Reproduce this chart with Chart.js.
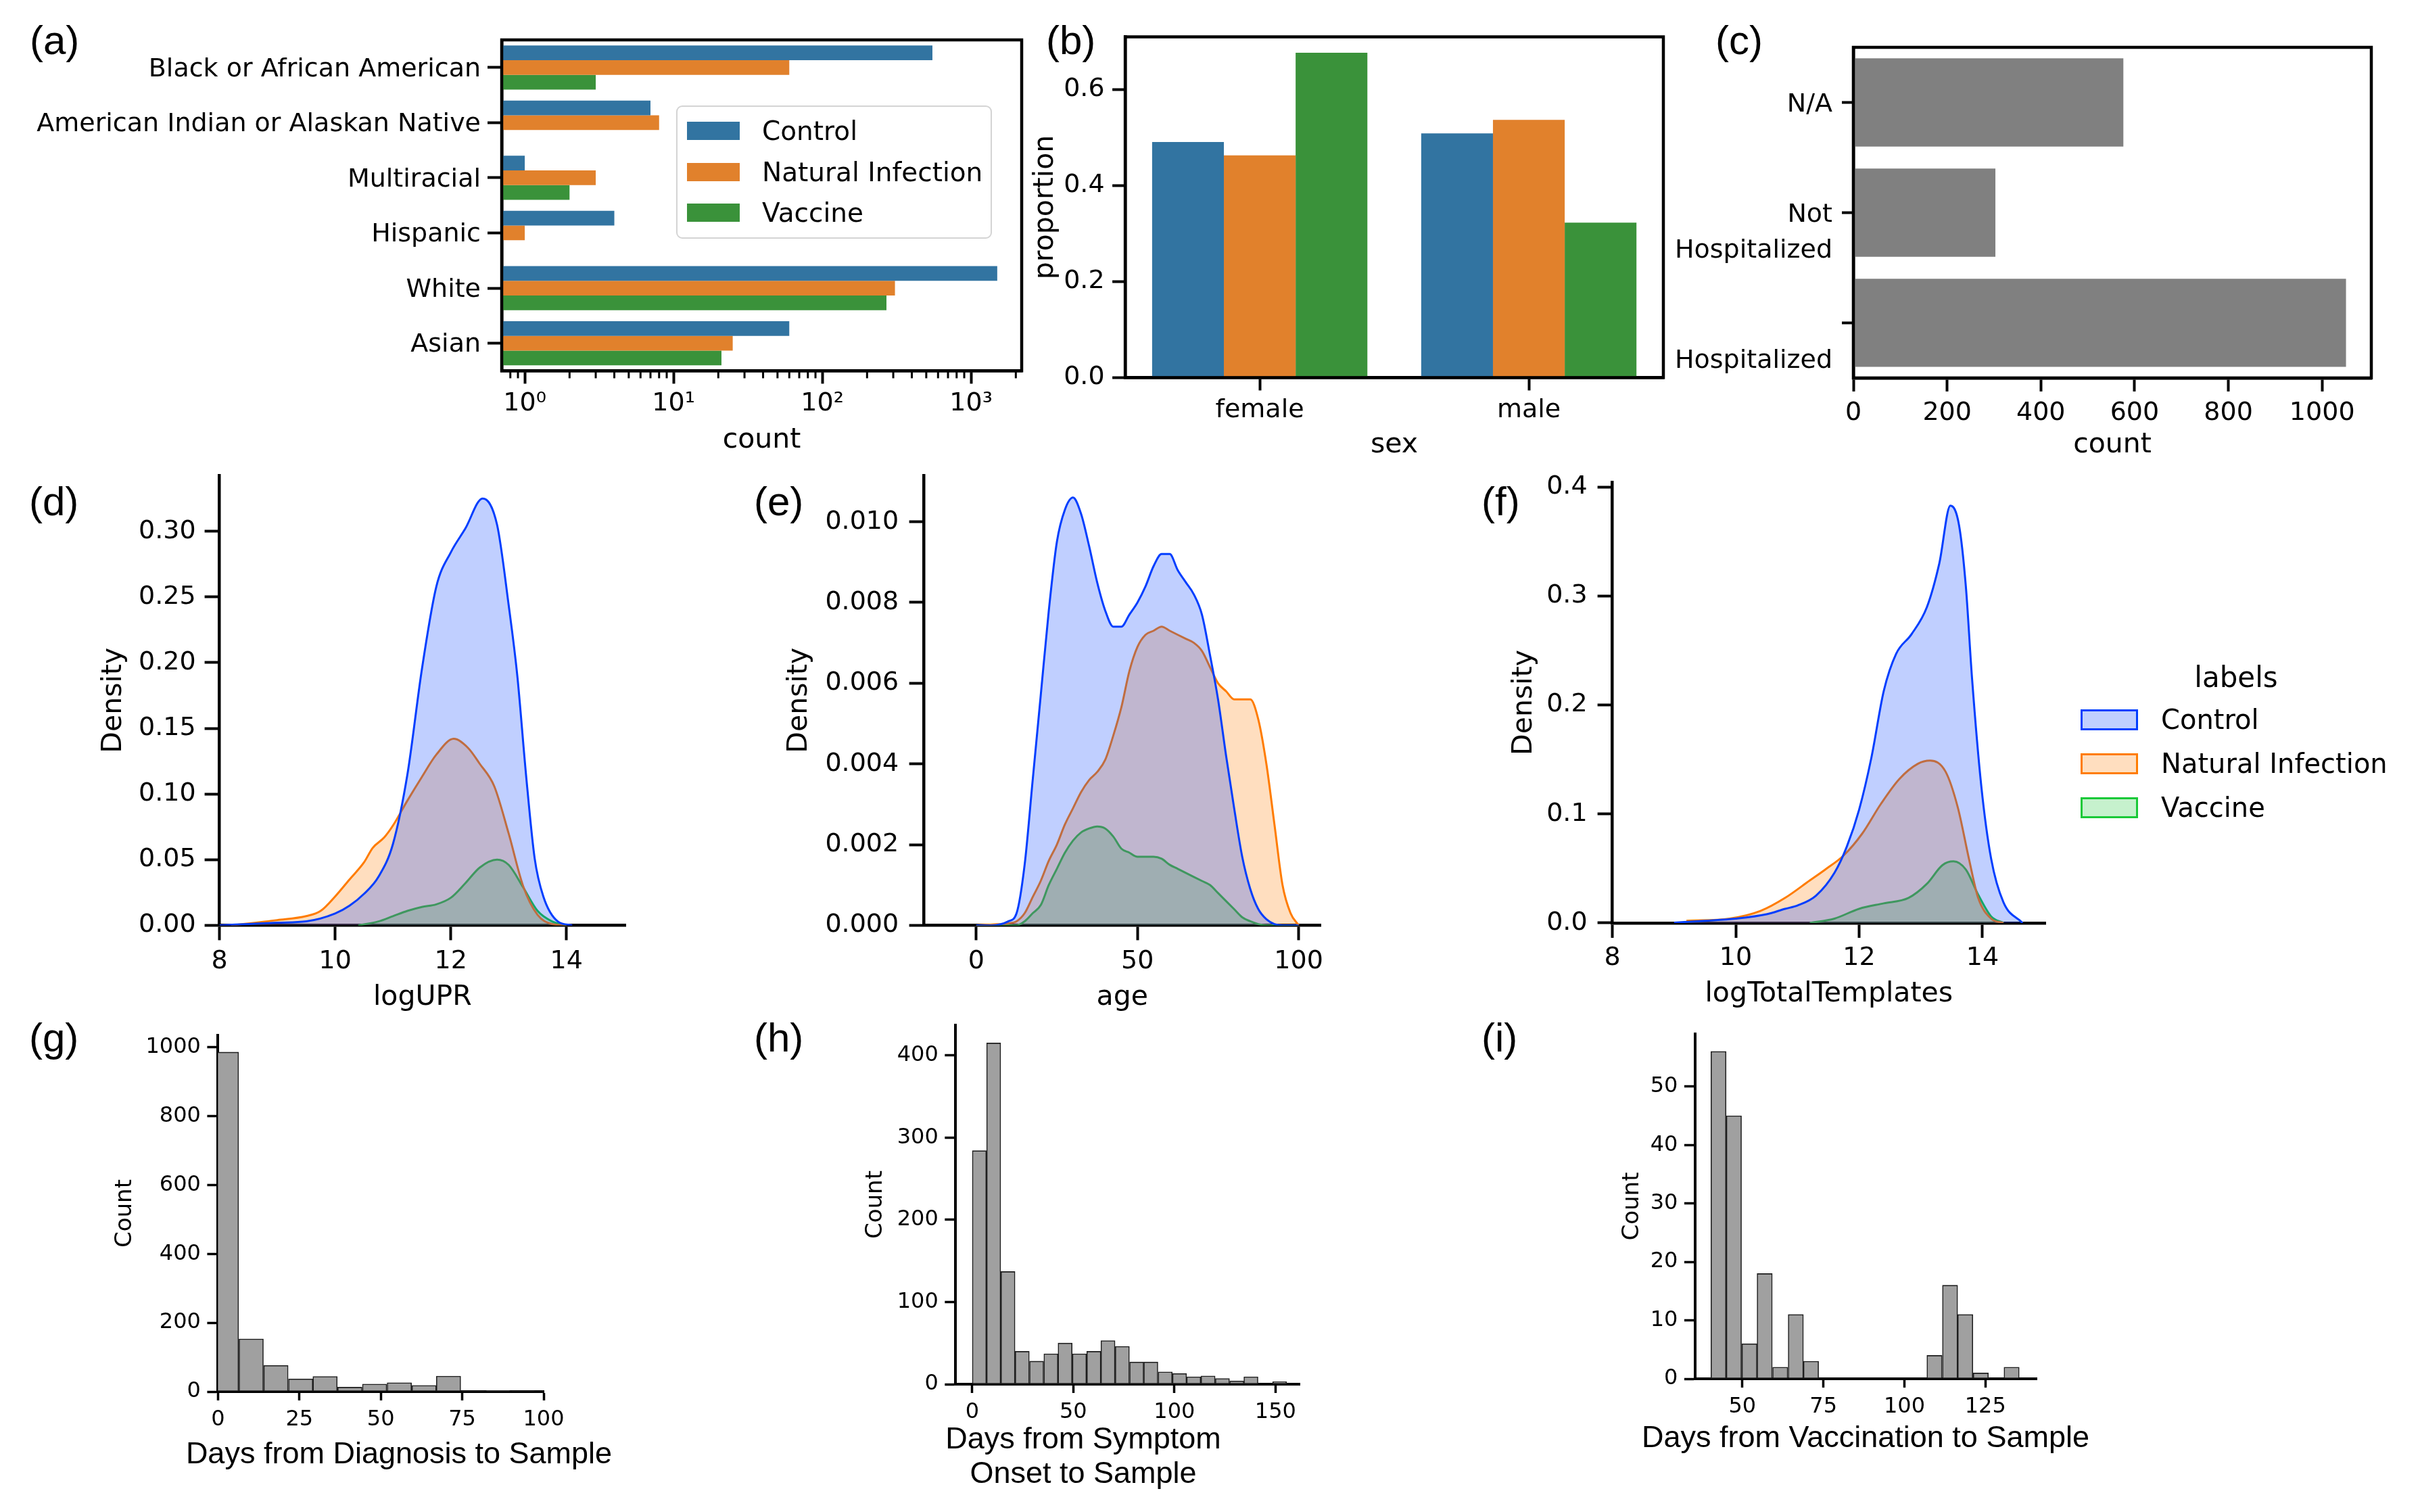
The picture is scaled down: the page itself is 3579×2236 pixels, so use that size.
<!DOCTYPE html>
<html>
<head>
<meta charset="utf-8">
<script src="https://cdn.jsdelivr.net/npm/chart.js@4.4.1/dist/chart.umd.min.js"></script>
<style>
  body { margin: 0; background: #fff; width: 3579px; height: 2236px; position: relative; overflow: hidden; }
  canvas { position: absolute; }
  .plabel { position: absolute; font-family: 'Liberation Sans', Arial, sans-serif; font-size: 60px; line-height: 60px; }
  .xt { position: absolute; font-family: 'Liberation Sans', Arial, sans-serif; font-size: 45px; line-height: 51px;
        text-align: center; transform: translate(-50%, -50%); white-space: nowrap; }
  .leg { position: absolute; font-family: 'DejaVu Sans', sans-serif; white-space: nowrap; }
  .legtxt { position: absolute; transform: translateY(-50%); }
  .legbox { position: absolute; box-sizing: border-box; }
</style>
</head>
<body>
<canvas id="cA"></canvas><canvas id="cB"></canvas><canvas id="cC"></canvas>
<canvas id="cD"></canvas><canvas id="cE"></canvas><canvas id="cF"></canvas>
<canvas id="cG"></canvas><canvas id="cH"></canvas><canvas id="cI"></canvas>

<div class="plabel" style="left:44px;top:30px">(a)</div>
<div class="plabel" style="left:1547px;top:30px">(b)</div>
<div class="plabel" style="left:2537px;top:30px">(c)</div>
<div class="plabel" style="left:43px;top:712px">(d)</div>
<div class="plabel" style="left:1115px;top:712px">(e)</div>
<div class="plabel" style="left:2191px;top:712px">(f)</div>
<div class="plabel" style="left:43px;top:1505px">(g)</div>
<div class="plabel" style="left:1115px;top:1505px">(h)</div>
<div class="plabel" style="left:2191px;top:1505px">(i)</div>

<div class="xt" style="left:590px;top:2148px">Days from Diagnosis to Sample</div>
<div class="xt" style="left:1602px;top:2152px">Days from Symptom<br>Onset to Sample</div>
<div class="xt" style="left:2759px;top:2124px">Days from Vaccination to Sample</div>

<div id="legA" class="leg" style="left:1000px;top:156px;width:467px;height:197px;border:2.5px solid #d4d4d4;border-radius:9px;box-sizing:border-box;background:rgba(255,255,255,0.8)"></div>
<div id="legF" class="leg" style="left:3060px;top:960px;width:519px;height:270px"></div>

<script>
// ---------- data ----------
const groups = ['Control', 'Natural Infection', 'Vaccine'];

// (a) race / ethnicity counts (log axis)
const raceCats = ['Black or African American', 'American Indian or Alaskan Native', 'Multiracial', 'Hispanic', 'White', 'Asian'];
const raceControl = [550, 7, 1, 4, 1500, 60];
const raceNatural = [60, 8, 3, 1, 308, 25];
const raceVaccine = [3, null, 2, null, 270, 21];
const countTicks = [1, 10, 100, 1000];
const countTickLabels = ['10\u2070', '10\u00b9', '10\u00b2', '10\u00b3'];
const countMinorTicks = [0.8, 0.9, 2, 3, 4, 5, 6, 7, 8, 9, 20, 30, 40, 50, 60, 70, 80, 90,
                         200, 300, 400, 500, 600, 700, 800, 900, 2000];

// (b) sex proportion
const sexCats = ['female', 'male'];
const sexControl = [0.491, 0.509];
const sexNatural = [0.463, 0.537];
const sexVaccine = [0.677, 0.323];
const propTicks = [0, 0.2, 0.4, 0.6];

// (c) hospitalization
const hospCats = ['N/A', 'Not Hospitalized', 'Hospitalized'];
const hospTickLines = [['N/A'], ['', 'Not', 'Hospitalized'], ['', '', 'Hospitalized']];
const hospCounts = [576, 303, 1051];
const hospTicks = [0, 200, 400, 600, 800, 1000];

// (d) logUPR densities
const uprCtrlX = [8.0, 8.5, 9.0, 9.5, 10.0, 10.25, 10.5, 10.75, 11.0, 11.25, 11.5, 11.75, 12.0, 12.25, 12.55, 12.8, 13.0, 13.15, 13.3, 13.45, 13.6, 13.85, 14.1];
const uprCtrlY = [0, 0.001, 0.002, 0.003, 0.009, 0.015, 0.024, 0.037, 0.062, 0.115, 0.195, 0.258, 0.284, 0.302, 0.325, 0.305, 0.244, 0.19, 0.115, 0.051, 0.022, 0.003, 0];
const uprNatX = [8.2, 9.0, 9.5, 9.75, 10.0, 10.25, 10.5, 10.65, 10.85, 11.0, 11.25, 11.5, 11.75, 12.05, 12.3, 12.5, 12.75, 13.0, 13.25, 13.5, 13.75, 14.0];
const uprNatY = [0, 0.004, 0.007, 0.011, 0.022, 0.035, 0.048, 0.059, 0.067, 0.076, 0.095, 0.113, 0.130, 0.142, 0.135, 0.123, 0.106, 0.070, 0.030, 0.008, 0.001, 0];
const uprVaxX = [10.4, 10.75, 11.0, 11.25, 11.5, 11.75, 12.0, 12.25, 12.5, 12.8, 13.0, 13.25, 13.5, 13.75, 14.0];
const uprVaxY = [0, 0.003, 0.007, 0.011, 0.014, 0.016, 0.021, 0.032, 0.044, 0.050, 0.046, 0.029, 0.011, 0.003, 0];
const uprTicks = [8, 10, 12, 14];
const uprDensityTicks = [0, 0.05, 0.10, 0.15, 0.20, 0.25, 0.30];

// (e) age densities
const ageX = [0, 5, 10, 12.5, 15, 17.5, 20, 22.5, 25, 27.5, 30, 32.5, 35, 37.5, 40, 42.5, 45, 47.5, 50, 52.5, 55, 57.5, 60,
              62.5, 65, 67.5, 70, 72.5, 75, 77.5, 80, 82.5, 85, 87.5, 90, 92.5, 95, 97.5, 100];
const ageCtrl = [0, 0, 0.0001, 0.0003, 0.0015, 0.0036, 0.0057, 0.0078, 0.0095, 0.0103, 0.0106, 0.0102, 0.0094, 0.0085, 0.0078,
                 0.0074, 0.0074, 0.0077, 0.0080, 0.0084, 0.0089, 0.0092, 0.0092, 0.0088, 0.0085, 0.0082, 0.0077, 0.0067, 0.0056,
                 0.0042, 0.0029, 0.0017, 0.0009, 0.0004, 0.00015, 0.00003, 0, 0, 0];
const ageNat = [0, 0.00002, 0.00005, 0.0001, 0.0003, 0.0007, 0.0011, 0.0016, 0.0020, 0.0025, 0.0029, 0.0033, 0.0036, 0.0038, 0.0041,
                0.0047, 0.0054, 0.0063, 0.0069, 0.0072, 0.0073, 0.0074, 0.0073, 0.0072, 0.0071, 0.0070, 0.0068, 0.0064, 0.0060,
                0.0058, 0.0056, 0.0056, 0.0056, 0.0051, 0.0040, 0.0025, 0.0010, 0.0003, 0];
const ageVax = [0, 0, 0, 0, 0.0001, 0.0003, 0.0005, 0.0010, 0.0014, 0.0018, 0.0021, 0.0023, 0.0024, 0.00245, 0.0024, 0.0022,
                0.0019, 0.0018, 0.0017, 0.0017, 0.0017, 0.00165, 0.0015, 0.0014, 0.0013, 0.0012, 0.0011, 0.0010, 0.0008,
                0.0006, 0.0004, 0.0002, 0.0001, 0.00003, 0, 0, 0, 0, 0];
const ageTicks = [0, 50, 100];
const ageDensityTicks = [0, 0.002, 0.004, 0.006, 0.008, 0.010];

// (f) logTotalTemplates densities
const tplCtrlX = [9.0, 9.5, 10.0, 10.5, 10.8, 11.0, 11.3, 11.6, 11.8, 12.0, 12.2, 12.4, 12.6, 12.85, 13.1, 13.3, 13.48, 13.62, 13.73, 13.83, 13.98, 14.14, 14.34, 14.65];
const tplCtrlY = [0.0003, 0.002, 0.004, 0.008, 0.013, 0.016, 0.025, 0.046, 0.070, 0.104, 0.152, 0.213, 0.247, 0.265, 0.290, 0.330, 0.383, 0.365, 0.309, 0.225, 0.126, 0.059, 0.019, 0];
const tplNatX = [9.2, 9.9, 10.4, 10.8, 11.2, 11.45, 11.75, 12.05, 12.35, 12.65, 12.95, 13.15, 13.4, 13.6, 13.78, 13.93, 14.14, 14.34];
const tplNatY = [0.002, 0.004, 0.011, 0.023, 0.039, 0.049, 0.062, 0.082, 0.109, 0.132, 0.146, 0.149, 0.139, 0.106, 0.059, 0.023, 0.004, 0];
const tplVaxX = [11.2, 11.6, 12.0, 12.4, 12.8, 13.1, 13.35, 13.53, 13.73, 13.93, 14.14, 14.34];
const tplVaxY = [0, 0.004, 0.013, 0.018, 0.023, 0.036, 0.053, 0.0565, 0.049, 0.026, 0.006, 0];
const tplTicks = [8, 10, 12, 14];
const tplDensityTicks = [0, 0.1, 0.2, 0.3, 0.4];

// (g) days from diagnosis histogram
const diagEdges = [-1.2, 6.4, 14.0, 21.6, 29.1, 36.7, 44.3, 51.9, 59.5, 67.0, 74.6, 82.2, 89.8];
const diagBinWidth = 7.58;
const diagCounts = [986, 153, 76, 37, 44, 13, 22, 26, 18, 45, 1, 3, 1];
const diagTicks = [0, 25, 50, 75, 100];
const diagCountTicks = [0, 200, 400, 600, 800, 1000];

// (h) days from symptom onset histogram
const onsetEdges = [0, 7.07, 14.14, 21.2, 28.3, 35.4, 42.4, 49.5, 56.6, 63.6, 70.7, 77.8, 84.8, 91.9, 99.0, 106.0,
                    113.1, 120.2, 127.3, 134.3, 141.4, 148.5];
const onsetBinWidth = 7.07;
const onsetCounts = [284, 415, 137, 40, 28, 37, 50, 37, 40, 53, 46, 27, 27, 15, 13, 9, 10, 7, 4, 9, 0, 3];
const onsetTicks = [0, 50, 100, 150];
const onsetCountTicks = [0, 100, 200, 300, 400];

// (i) days from vaccination histogram
const vaxEdges = [40.25, 45.0, 49.8, 54.5, 59.3, 64.1, 68.8, 73.6, 78.3, 83.1, 87.9, 92.6, 97.4, 102.1, 106.9, 111.7,
                  116.4, 121.2, 125.9, 130.7];
const vaxBinWidth = 4.76;
const vaxCounts = [56, 45, 6, 18, 2, 11, 3, 0, 0, 0, 0, 0, 0, 0, 4, 16, 11, 1, 0, 2];
const vaxTicks = [50, 75, 100, 125];
const vaxCountTicks = [0, 10, 20, 30, 40, 50];

// ---------- styles ----------
const BAR_COLORS = ['#3274a1', '#e1812c', '#3a923a'];
const KDE_LINE = ['#023eff', '#ff7c00', '#1ac938'];
const KDE_FILL = ['rgba(2,62,255,0.25)', 'rgba(255,124,0,0.25)', 'rgba(26,201,56,0.25)'];

Chart.defaults.font.family = "'DejaVu Sans', sans-serif";
Chart.defaults.color = '#000';

function setup(id, area, wy, hx, padTop, padRight) {
    const cv = document.getElementById(id);
    const left = area[0] - wy, top = area[1] - padTop;
    const w = Math.round(area[2] + padRight - left);
    const h = Math.round(area[3] + hx - top);
    cv.style.left = left + 'px';
    cv.style.top = top + 'px';
    cv.width = w; cv.height = h;
    cv.style.width = w + 'px'; cv.style.height = h + 'px';
    return cv;
}
function ticksOpt(size, pad, extra) {
    return Object.assign({ font: { size: size }, color: '#000', padding: pad, autoSkip: false, maxRotation: 0, minRotation: 0 }, extra || {});
}
function gridOpt(len, w) {
    return { display: true, drawOnChartArea: false, drawTicks: true, tickLength: len, tickWidth: w, tickColor: '#000', color: '#000', offset: false };
}
function borderOpt(w) { return { display: true, color: '#000', width: w }; }
function titleOpt(text, size, pad) { return { display: true, text: text, font: { size: size }, color: '#000', padding: pad }; }
function fixedTicks(values) { return s => { s.ticks = values.map(v => ({ value: v })); }; }
const baseOpts = (padTop, padRight) => ({
    responsive: false, animation: false,
    layout: { padding: { left: 0, top: padTop, right: padRight, bottom: 0 } },
    plugins: { legend: { display: false }, tooltip: { enabled: false } }
});

// box around the plot area (top/right spines)
const framePlugin = {
    id: 'frame',
    afterDraw(chart) {
        const { ctx, chartArea: a } = chart;
        ctx.save();
        ctx.strokeStyle = '#000'; ctx.lineWidth = 4.5;
        ctx.strokeRect(a.left, a.top, a.right - a.left, a.bottom - a.top);
        ctx.restore();
    }
};
// short minor ticks for the log axis
const minorTickPlugin = {
    id: 'minorTicks',
    afterDraw(chart) {
        const s = chart.scales.x, ctx = chart.ctx;
        ctx.save();
        ctx.strokeStyle = '#000'; ctx.lineWidth = 3;
        countMinorTicks.forEach(v => {
            const px = s.getPixelForValue(v);
            if (px < s.left || px > s.right) return;
            ctx.beginPath(); ctx.moveTo(px, s.top); ctx.lineTo(px, s.top + 11); ctx.stroke();
        });
        ctx.restore();
    }
};

// =========================
// (a) RACE
// =========================
(function () {
    const area = [742, 59, 1511, 548];
    const cv = setup('cA', area, 742, 131.6, 59, 40);
    const series = [raceControl, raceNatural, raceVaccine];
    new Chart(cv, {
        type: 'bar',
        data: {
            labels: raceCats,
            datasets: series.map((d, k) => ({
                label: groups[k], data: d, backgroundColor: BAR_COLORS[k],
                categoryPercentage: 0.8, barPercentage: 1
            }))
        },
        options: Object.assign(baseOpts(59, 40), {
            indexAxis: 'y',
            scales: {
                x: {
                    type: 'logarithmic', min: 0.7, max: 2190, z: 1,
                    afterBuildTicks: fixedTicks(countTicks),
                    ticks: ticksOpt(38, 7.2, { callback: v => countTickLabels[countTicks.indexOf(v)] || '' }),
                    grid: gridOpt(19, 4), border: borderOpt(4.5),
                    title: titleOpt('count', 41, { top: 0, bottom: 4 }),
                    afterFit: s => { s.height = 131.6; }
                },
                y: {
                    z: 1,
                    ticks: ticksOpt(38, 10, { labelOffset: 3 }),
                    grid: gridOpt(21, 4), border: borderOpt(4.5),
                    afterFit: s => { s.width = 742; }
                }
            }
        }),
        plugins: [framePlugin, minorTickPlugin]
    });
})();

// =========================
// (b) SEX
// =========================
(function () {
    const area = [1664.5, 54.5, 2460, 558];
    const cv = setup('cB', area, 142.1, 128.6, 54.5, 30);
    const series = [sexControl, sexNatural, sexVaccine];
    new Chart(cv, {
        type: 'bar',
        data: {
            labels: sexCats,
            datasets: series.map((d, k) => ({
                label: groups[k], data: d, backgroundColor: BAR_COLORS[k],
                categoryPercentage: 0.8, barPercentage: 1
            }))
        },
        options: Object.assign(baseOpts(54.5, 30), {
            scales: {
                x: {
                    z: 1,
                    ticks: ticksOpt(38, 7.2),
                    grid: gridOpt(19, 4), border: borderOpt(4.5),
                    title: titleOpt('sex', 41, { top: 0, bottom: 4 }),
                    afterFit: s => { s.height = 128.6; }
                },
                y: {
                    min: 0, max: 0.71, z: 1,
                    afterBuildTicks: fixedTicks(propTicks),
                    ticks: ticksOpt(38, 11.5, { callback: v => v.toFixed(1) }),
                    grid: gridOpt(19, 4), border: borderOpt(4.5),
                    title: titleOpt('proportion', 41, { top: 0, bottom: 0 }),
                    afterFit: s => { s.width = 142.1; }
                }
            }
        }),
        plugins: [framePlugin]
    });
})();

// =========================
// (c) HOSPITALIZATION
// =========================
(function () {
    const area = [2741, 70, 3507, 559];
    const cv = setup('cC', area, 270, 128.1, 110, 40);
    new Chart(cv, {
        type: 'bar',
        data: {
            labels: hospCats,
            datasets: [{ data: hospCounts, backgroundColor: '#808080', categoryPercentage: 0.8, barPercentage: 1 }]
        },
        options: Object.assign(baseOpts(110, 40), {
            indexAxis: 'y',
            scales: {
                x: {
                    min: 0, max: 1105, z: 1,
                    afterBuildTicks: fixedTicks(hospTicks),
                    ticks: ticksOpt(38, 9.8, { callback: v => String(v) }),
                    grid: gridOpt(20, 4), border: borderOpt(4.5),
                    title: titleOpt('count', 41, { top: 0, bottom: 4 }),
                    afterFit: s => { s.height = 128.1; }
                },
                y: {
                    z: 1,
                    ticks: ticksOpt(38, 14, { font: { size: 38, lineHeight: 1.38 }, labelOffset: 4, callback: (v, i) => hospTickLines[i] }),
                    grid: gridOpt(17, 4), border: borderOpt(4.5),
                    afterFit: s => { s.width = 270; }
                }
            }
        }),
        plugins: [framePlugin]
    });
})();

// =========================
// (d)(e)(f) KDE PANELS
// =========================
function kdeChart(id, area, wy, hx, xr, yr, xTicks, yTicks, dec, xTitle, xPad, yPad, series) {
    const cv = setup(id, area, wy, hx, 40, 45);
    new Chart(cv, {
        type: 'line',
        data: {
            datasets: series.map((s, k) => ({
                label: groups[k],
                data: s[0].map((x, i) => ({ x: x, y: s[1][i] })),
                borderColor: KDE_LINE[k], backgroundColor: KDE_FILL[k], borderWidth: 3,
                fill: 'origin', pointRadius: 0, cubicInterpolationMode: 'monotone'
            }))
        },
        options: Object.assign(baseOpts(40, 45), {
            scales: {
                x: {
                    type: 'linear', min: xr[0], max: xr[1], z: 1,
                    afterBuildTicks: fixedTicks(xTicks),
                    ticks: ticksOpt(38, xPad, { callback: v => String(v) }),
                    grid: gridOpt(22, 4), border: borderOpt(4.5),
                    title: titleOpt(xTitle, 41, { top: 0, bottom: 4 }),
                    afterFit: s => { s.height = hx; }
                },
                y: {
                    type: 'linear', min: yr[0], max: yr[1], z: 1,
                    afterBuildTicks: fixedTicks(yTicks),
                    ticks: ticksOpt(38, yPad, { callback: v => v.toFixed(dec) }),
                    grid: gridOpt(22, 4), border: borderOpt(4.5),
                    title: titleOpt('Density', 41, { top: 0, bottom: 0 }),
                    afterFit: s => { s.width = wy; }
                }
            }
        })
    });
}

kdeChart('cD', [325, 702.5, 925, 1368], 180.6, 135.6, [8, 15.02], [0, 0.3426], uprTicks, uprDensityTicks, 2,
    'logUPR', 9.2, 13, [[uprCtrlX, uprCtrlY], [uprNatX, uprNatY], [uprVaxX, uprVaxY]]);
kdeChart('cE', [1367, 702.5, 1953.6, 1368], 208.6, 135.6, [-16.2, 106.8], [0, 0.01115], ageTicks, ageDensityTicks, 3,
    'age', 9.2, 15.4, [[ageX, ageCtrl], [ageX, ageNat], [ageX, ageVax]]);
kdeChart('cF', [2385, 713, 3025, 1364.5], 154.6, 134.1, [8, 15.02], [0, 0.4045], tplTicks, tplDensityTicks, 1,
    'logTotalTemplates', 7.2, 15, [[tplCtrlX, tplCtrlY], [tplNatX, tplNatY], [tplVaxX, tplVaxY]]);

// =========================
// (g)(h)(i) HISTOGRAMS
// =========================
function histChart(id, area, wy, xr, ymax, edges, width, counts, xTicks, yTicks) {
    const hx = 70;
    const cv = setup(id, area, wy, hx, 40, 45);
    new Chart(cv, {
        type: 'bar',
        data: {
            datasets: [{
                data: edges.map((e, i) => ({ x: e + width / 2, y: counts[i] })),
                backgroundColor: '#a0a0a0', borderColor: '#1e1e1e', borderWidth: 1.6, borderSkipped: false,
                barPercentage: 1, categoryPercentage: 1, clip: 0
            }]
        },
        options: Object.assign(baseOpts(40, 45), {
            scales: {
                x: {
                    type: 'linear', min: xr[0], max: xr[1], offset: false, z: 1,
                    afterBuildTicks: fixedTicks(xTicks),
                    ticks: ticksOpt(32, 9, { callback: v => String(v) }),
                    grid: gridOpt(13, 3.5), border: borderOpt(4),
                    afterFit: s => { s.height = hx; }
                },
                y: {
                    min: 0, max: ymax, z: 1,
                    afterBuildTicks: fixedTicks(yTicks),
                    ticks: ticksOpt(32, 9.5, { callback: v => String(v) }),
                    grid: gridOpt(16, 3.5), border: borderOpt(4),
                    title: titleOpt('Count', 34, { top: 0, bottom: 0 }),
                    afterFit: s => { s.width = wy; }
                }
            }
        })
    });
}

histChart('cG', [322, 1530.5, 803.6, 2057.7], 157.4, [0, 100], 1035, diagEdges, diagBinWidth, diagCounts, diagTicks, diagCountTicks);
histChart('cH', [1412.9, 1516.4, 1922, 2047], 138.3, [-8.2, 161.9], 436.7, onsetEdges, onsetBinWidth, onsetCounts, onsetTicks, onsetCountTicks);
histChart('cI', [2507, 1529, 3012.5, 2038.5], 112.9, [35.4, 140.8], 59, vaxEdges, vaxBinWidth, vaxCounts, vaxTicks, vaxCountTicks);

// =========================
// LEGENDS
// =========================
(function () {
    const legA = document.getElementById('legA');
    const rowsA = [35, 96, 156];
    groups.forEach((g, k) => {
        const sw = document.createElement('div');
        sw.className = 'legbox';
        sw.style.cssText = `left:14px;top:${rowsA[k] - 13.5}px;width:78px;height:27px;background:${BAR_COLORS[k]}`;
        legA.appendChild(sw);
        const t = document.createElement('div');
        t.className = 'legtxt';
        t.style.cssText = `left:125px;top:${rowsA[k]}px;font-size:39px`;
        t.textContent = g;
        legA.appendChild(t);
    });

    const legF = document.getElementById('legF');
    const title = document.createElement('div');
    title.className = 'legtxt';
    title.style.cssText = 'left:247px;top:41px;font-size:42px;transform:translate(-50%,-50%)';
    title.textContent = 'labels';
    legF.appendChild(title);
    const rowsF = [104, 169, 234];
    groups.forEach((g, k) => {
        const sw = document.createElement('div');
        sw.className = 'legbox';
        sw.style.cssText = `left:17px;top:${rowsF[k] - 15.5}px;width:85px;height:31px;background:${KDE_FILL[k]};border:3px solid ${KDE_LINE[k]}`;
        legF.appendChild(sw);
        const t = document.createElement('div');
        t.className = 'legtxt';
        t.style.cssText = `left:136px;top:${rowsF[k]}px;font-size:40px`;
        t.textContent = g;
        legF.appendChild(t);
    });
})();
</script>
</body>
</html>
